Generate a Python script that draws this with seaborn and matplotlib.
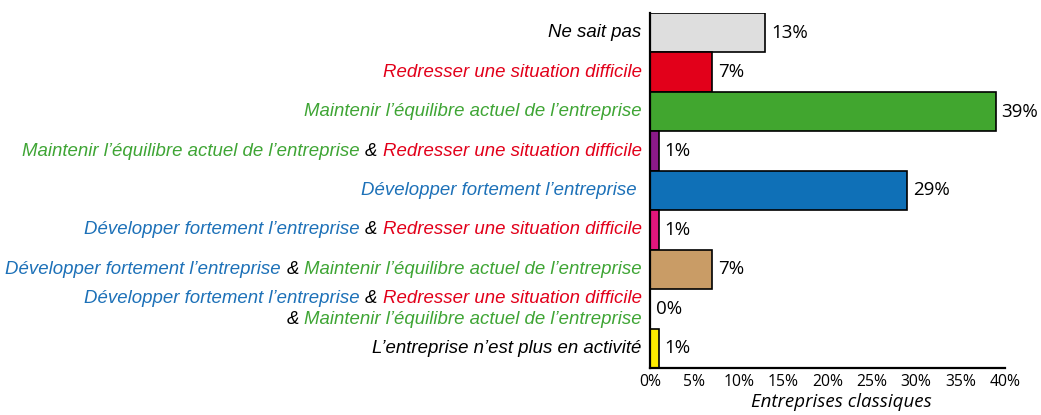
import matplotlib
matplotlib.use("Agg")
import pandas as pd
import seaborn as sns
import matplotlib.pyplot as plt
from matplotlib.offsetbox import TextArea, HPacker, VPacker, AnnotationBbox

# Couleurs des catégories de texte
NOIR = "#000000"
ROUGE = "#e2001a"
VERT = "#3fa535"
BLEU = "#1d71b8"

DEV = "Développer fortement l’entreprise"
RED = "Redresser une situation difficile"
MAIN = "Maintenir l’équilibre actuel de l’entreprise"

# Données
categories = ["Ne sait pas", "Redresser", "Maintenir", "Maintenir & Redresser",
              "Développer", "Développer & Redresser", "Développer & Maintenir",
              "Développer & Redresser & Maintenir", "Plus en activité"]
values = [13, 7, 39, 1, 29, 1, 7, 0, 1]
bar_colors = ["#dedede", "#e2001a", "#41a62f", "#8b1a89", "#0f70b7",
              "#e2167c", "#c99c66", "#ffffff", "#ffec00"]

# Libellés multicolores : une liste de lignes, chaque ligne = morceaux (texte, couleur)
labels = [
    [[("Ne sait pas", NOIR)]],
    [[(RED, ROUGE)]],
    [[(MAIN, VERT)]],
    [[(MAIN, VERT), ("&", NOIR), (RED, ROUGE)]],
    [[(DEV + " ", BLEU)]],
    [[(DEV, BLEU), ("&", NOIR), (RED, ROUGE)]],
    [[(DEV, BLEU), ("&", NOIR), (MAIN, VERT)]],
    [[(DEV, BLEU), ("&", NOIR), (RED, ROUGE)], [("&", NOIR), (MAIN, VERT)]],
    [[("L’entreprise n’est plus en activité", NOIR)]],
]

df = pd.DataFrame({"categorie": categories, "valeur": values})

sns.set_style("white")
plt.rcParams["font.family"] = ["Open Sans", "DejaVu Sans"]
plt.rcParams["text.color"] = "black"

fig = plt.figure(figsize=(10.41, 4.15), dpi=100)
ax = fig.add_axes([0.6244, 0.1133, 0.3410, 0.8554])

sns.barplot(data=df, x="valeur", y="categorie", hue="categorie",
            palette=dict(zip(categories, bar_colors)), legend=False,
            width=1.0, edgecolor="black", linewidth=1.2, saturation=1, ax=ax)

for cont in ax.containers:
    ax.bar_label(cont, fmt="%g%%", padding=4, fontsize=13.5, color="black")

ax.set_xlim(0, 40)
ax.set_ylim(len(categories) - 0.5, -0.5)
ax.set_xticks(range(0, 41, 5))
ax.set_xticklabels([f"{t}%" for t in range(0, 41, 5)], fontsize=11.3)
ax.tick_params(axis="x", direction="in", length=5, width=1.5, pad=4, colors="black")
ax.tick_params(axis="y", left=False, labelleft=False)
ax.set_ylabel("")
ax.set_xlabel("Entreprises classiques", fontsize=13.5, style="italic", color="black")
ax.xaxis.set_label_coords(0.54, -0.07)
ax.xaxis.label.set_va("top")

for s in ["top", "right"]:
    ax.spines[s].set_visible(False)
for s in ["left", "bottom"]:
    ax.spines[s].set_linewidth(1.6)
    ax.spines[s].set_color("black")

# Libellés des catégories
tp = dict(style="italic", family="Liberation Sans", size=13.4)
for i, lines in enumerate(labels):
    rows = []
    for line in lines:
        parts = [TextArea(t, textprops=dict(color=c, **tp)) for t, c in line]
        rows.append(HPacker(children=parts, align="baseline", pad=0, sep=3.8))
    box = VPacker(children=rows, align="right", pad=0, sep=3) if len(rows) > 1 else rows[0]
    ab = AnnotationBbox(box, (0, i), xycoords=("axes fraction", "data"),
                        xybox=(-6, 0), boxcoords="offset points",
                        box_alignment=(1, 0.5), frameon=False, pad=0)
    ax.add_artist(ab)

fig.savefig("out.png", dpi=100)
